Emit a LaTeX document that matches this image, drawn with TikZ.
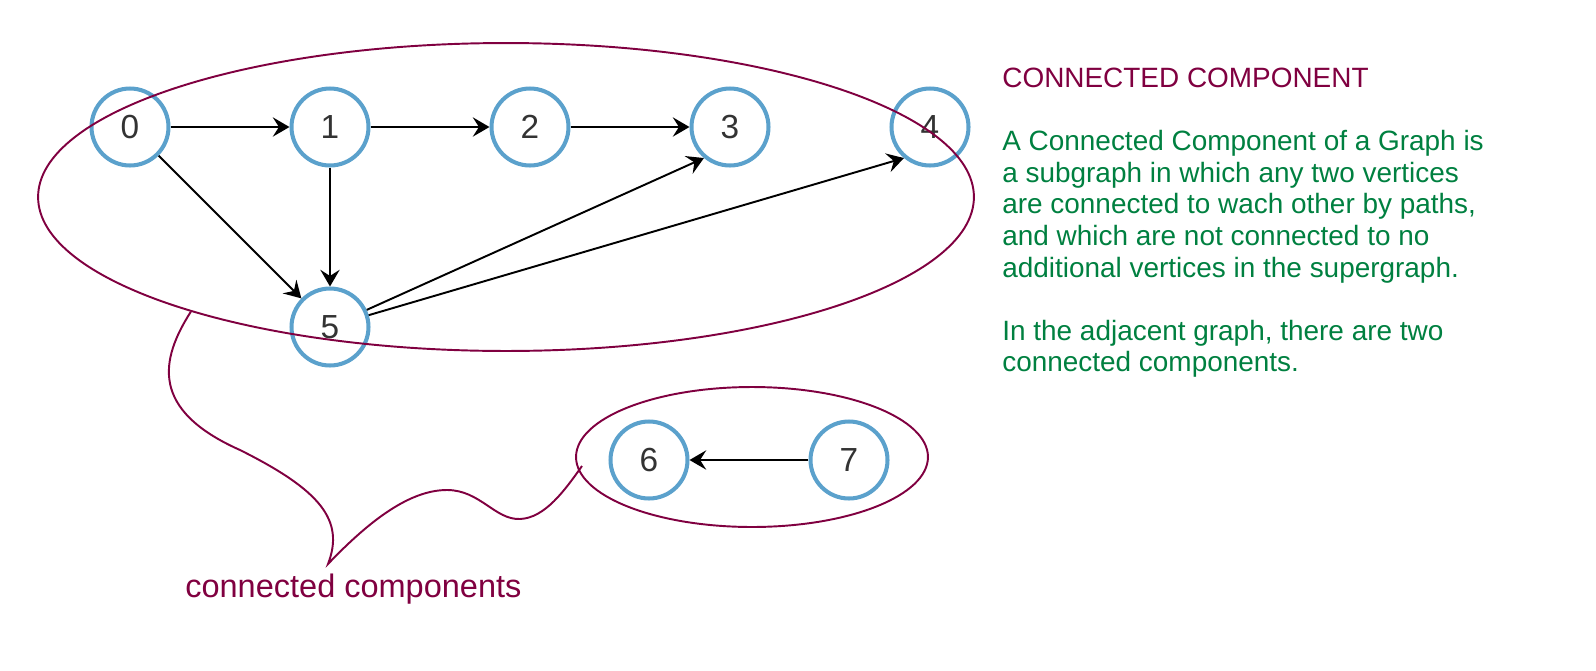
\documentclass[tikz,border=0pt]{standalone}
\usepackage{fontspec}
\setmainfont{Liberation Sans}
\usetikzlibrary{arrows.meta,shapes.geometric}

\definecolor{vblue}{RGB}{91,161,204}
\definecolor{ccred}{RGB}{128,0,64}
\definecolor{ccgreen}{RGB}{0,128,64}
\definecolor{digit}{RGB}{51,51,51}

\tikzset{
  vertex/.style={circle, draw=vblue, line width=2.3pt, minimum size=1.54cm, inner sep=0pt,
    text=digit, font=\fontsize{19}{22}\selectfont},
  edge/.style={line width=1.1pt, -{Stealth[length=9.5pt,width=11pt,inset=3.5pt]}},
  comp/.style={ellipse, draw=ccred, line width=1.1pt, inner sep=0pt},
}

\begin{document}
\begin{tikzpicture}[x=0.02cm, y=-0.02cm]
    \useasboundingbox (0,0) rectangle (1596,670);

    % Sommets
    \node[vertex] (v0) at (130,127) {0};
    \node[vertex] (v1) at (330,127) {1};
    \node[vertex] (v2) at (530,127) {2};
    \node[vertex] (v3) at (730,127) {3};
    \node[vertex] (v4) at (930,127) {4};
    \node[vertex] (v5) at (330,327) {5};
    \node[vertex] (v6) at (649,460) {6};
    \node[vertex] (v7) at (849,460) {7};

    % Arcs
    \draw[edge] (v0) -- (v1);
    \draw[edge] (v1) -- (v2);
    \draw[edge] (v2) -- (v3);
    \draw[edge] (v0) -- (v5);
    \draw[edge] (v1) -- (v5);
    \draw[edge] (v5.25) -- (v3.230);
    \draw[edge] (v5.17) -- (v4.230);
    \draw[edge] (v7) -- (v6);

    % Composantes connexes
    \node[comp, minimum width=18.72cm, minimum height=6.16cm] (big) at (506,197) {};
    \node[comp, minimum width=7.04cm, minimum height=2.8cm] (small) at (752,457) {};

    % Accolade vers l'etiquette
    \coordinate (b0) at (big.200);
    \coordinate (b1) at (328,564);
    \coordinate (b2) at (582,466);
    \draw[ccred, line width=1.1pt] (b0) .. controls (160,360) and (150,410) .. (240,450)
        .. controls (320,490) and (345,520) .. (b1)
        .. controls (370,520) and (410,490) .. (447,490)
        .. controls (480,490) and (495,520) .. (520,519)
        .. controls (545,518) and (565,490) .. (b2);
    \node[anchor=base west, text=ccred, inner sep=0pt, font=\fontsize{18.5}{21}\selectfont]
        (etiq) at (185,597) {connected components};

    % Texte explicatif
    \node[anchor=base west, text=ccred, inner sep=0pt, font=\fontsize{15.9}{18}\selectfont]
        (titre) at (1002,87) {CONNECTED COMPONENT};
    \node[anchor=north west, align=left, text=ccgreen, inner sep=0pt,
        font=\fontsize{15.9}{18}\selectfont] (defn) at (1002,130)
        {A Connected Component of a Graph is\\
         a subgraph in which any two vertices\\
         are connected to wach other by paths,\\
         and which are not connected to no\\
         additional vertices in the supergraph.\\[18pt]
         In the adjacent graph, there are two\\
         connected components.};

\end{tikzpicture}
\end{document}
